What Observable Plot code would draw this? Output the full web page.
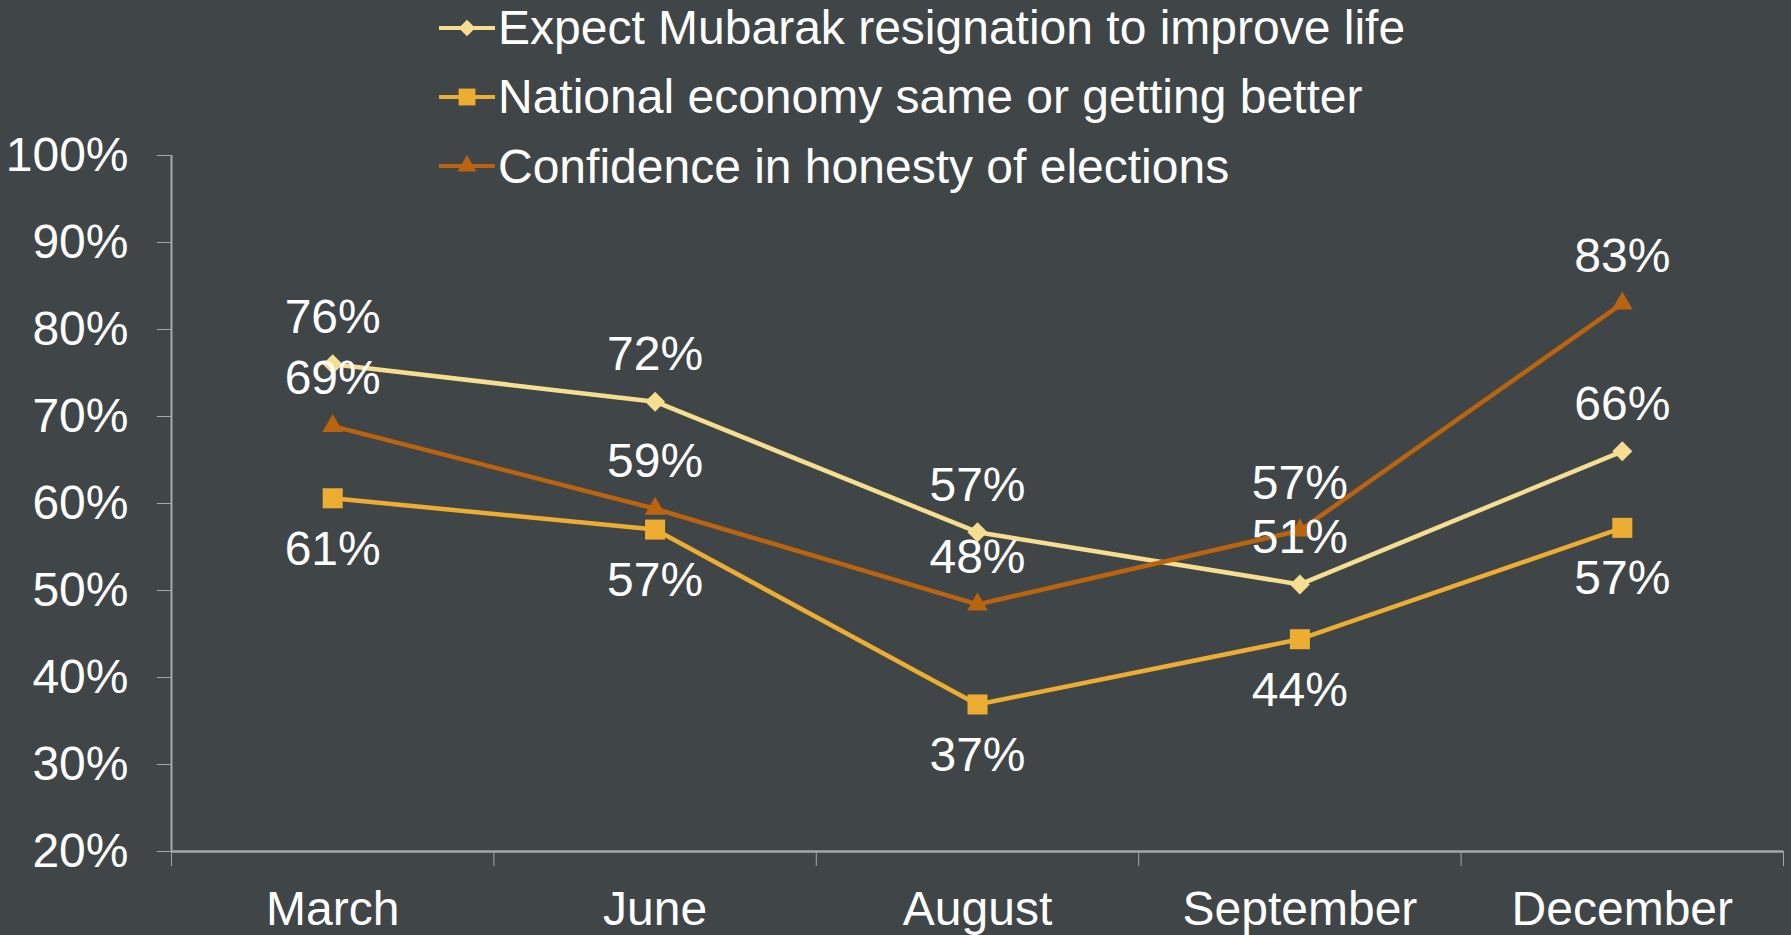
<!DOCTYPE html>
<html>
<head>
<meta charset="utf-8">
<script src="https://cdn.jsdelivr.net/npm/d3@7"></script>
<script src="https://cdn.jsdelivr.net/npm/@observablehq/plot@0.6"></script>
<style>
  html, body { margin: 0; padding: 0; background: #404647; }
  #wrap { position: relative; width: 1791px; height: 935px; background: #404647; overflow: hidden; }
  #legend { position: absolute; left: 439px; top: -7px; font-family: "Liberation Sans", Arial, sans-serif; font-size: 48px; color: #ffffff; }
  .row { display: flex; align-items: center; height: 69.3px; }
  .row svg { display: block; margin-right: 3px; }
  .row span { line-height: normal; white-space: nowrap; }
</style>
</head>
<body>
<div id="wrap">
  <div id="chart"></div>
  <div id="legend"></div>
</div>
<script>
// ---- data ----
const months = ["March", "June", "August", "September", "December"];
const seriesNames = [
  "Expect Mubarak resignation to improve life",
  "National economy same or getting better",
  "Confidence in honesty of elections"
];
const mubarak   = [0.76, 0.717, 0.567, 0.507, 0.66];
const economy   = [0.606, 0.57, 0.369, 0.444, 0.572];
const elections = [0.689, 0.594, 0.484, 0.569, 0.83];
const yTicks = [0.2, 0.3, 0.4, 0.5, 0.6, 0.7, 0.8, 0.9, 1.0];

// ---- styles ----
const colors = ["#F6DE90", "#ECAD32", "#BA640F"];
const symbols = [d3.symbolDiamond2, d3.symbolSquare, d3.symbolTriangle];
const symbolR = [9.0, 11.3, 7.7];
const legendR = [7.5, 9.5, 7.0];
const labelDy = [-47, 51, -47];
const axisColor = "#A7A7A7";
const font = "'Liberation Sans', Arial, sans-serif";
const fs = 48;

const allSeries = [mubarak, economy, elections];
const rows = [];
allSeries.forEach((vals, s) => {
  vals.forEach((v, i) => rows.push({series: seriesNames[s], s, i, x: i + 0.5, month: months[i], value: v}));
});

const marks = [
  Plot.ruleY([0.2], {stroke: axisColor, strokeWidth: 2.5}),
  Plot.ruleX([0], {y1: 1.0, y2: 0.2, stroke: axisColor, strokeWidth: 2}),
  Plot.axisY({ticks: yTicks, label: null, tickSize: 14, tickPadding: 29, tickFormat: d3.format(".0%"), stroke: axisColor, fill: "#ffffff"}),
  Plot.axisX({ticks: d3.range(months.length + 1), label: null, tickSize: 15, tickFormat: () => "", stroke: axisColor}),
  Plot.axisX({ticks: months.map((m, i) => i + 0.5), label: null, tickSize: 0, tickPadding: 39, tickFormat: d => months[Math.round(d - 0.5)], fill: "#ffffff"})
];

allSeries.forEach((vals, s) => {
  const data = rows.filter(r => r.s === s);
  marks.push(Plot.line(data, {x: "x", y: "value", stroke: colors[s], strokeWidth: 4.5}));
});
allSeries.forEach((vals, s) => {
  const data = rows.filter(r => r.s === s);
  marks.push(Plot.dot(data, {x: "x", y: "value", symbol: symbols[s], r: symbolR[s], fill: colors[s], stroke: "none"}));
});
allSeries.forEach((vals, s) => {
  const data = rows.filter(r => r.s === s);
  marks.push(Plot.text(data, {x: "x", y: "value", text: d => d3.format(".0%")(d.value), dy: labelDy[s], fill: "#ffffff", fontSize: fs}));
});

const chart = Plot.plot({
  width: 1791,
  height: 935,
  marginLeft: 171,
  marginRight: 8,
  marginTop: 155,
  marginBottom: 84,
  style: {background: "#404647", color: "#ffffff", fontFamily: font, fontSize: fs + "px", overflow: "visible"},
  x: {type: "linear", domain: [0, months.length], axis: null},
  y: {type: "linear", domain: [0.2, 1.0], axis: null},
  marks
});
document.getElementById("chart").appendChild(chart);

// ---- legend ----
const legend = d3.select("#legend");
seriesNames.forEach((name, s) => {
  const row = legend.append("div").attr("class", "row");
  const svg = row.append("svg").attr("width", 56).attr("height", 30);
  svg.append("line").attr("x1", 0).attr("x2", 56).attr("y1", 15).attr("y2", 15)
    .attr("stroke", colors[s]).attr("stroke-width", 4);
  svg.append("path").attr("transform", "translate(28,15)")
    .attr("d", d3.symbol(symbols[s], Math.PI * legendR[s] * legendR[s])())
    .attr("fill", colors[s]);
  row.append("span").text(name);
});
</script>
</body>
</html>
